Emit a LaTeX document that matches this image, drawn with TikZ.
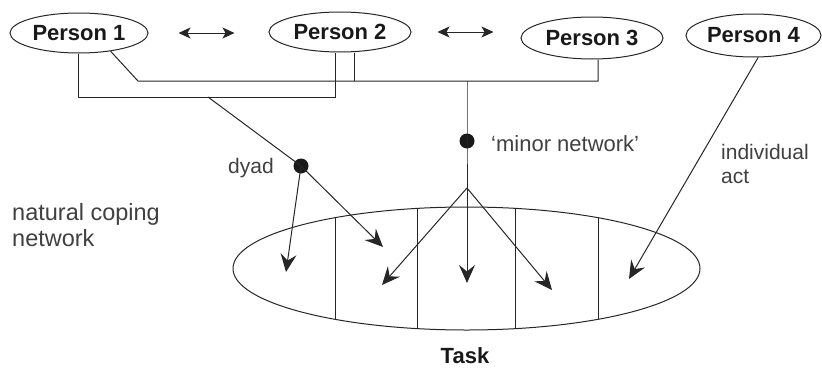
\documentclass[tikz,border=0pt]{standalone}
\usepackage{fontspec}
\setmainfont{Liberation Sans}
\usetikzlibrary{shapes.geometric,arrows.meta}
\begin{document}
\begin{tikzpicture}[x=1pt,y=-1pt,
  person/.style={draw=black!85, line width=1pt, ellipse, inner sep=0pt,
    font=\bfseries\fontsize{22}{26}\selectfont, text=black!90},
  note/.style={anchor=base west, inner sep=0pt,
    font=\fontsize{21}{25}\selectfont, text=black!75},
  wire/.style={draw=black!85, line width=1pt},
  bigarrow/.style={wire, -{Stealth[length=18pt,width=16pt,inset=6.5pt]}},
  swaparrow/.style={wire, {Stealth[length=12pt,width=11pt,inset=3pt]}-{Stealth[length=12pt,width=11pt,inset=3pt]}},
  junction/.style={circle, fill=black!90, inner sep=0pt, minimum size=15pt}]
\useasboundingbox (0,0) rectangle (822,367);

% people
\node[person, minimum width=138pt, minimum height=40pt] (p1) at (79,33) {Person 1};
\node[person, minimum width=142pt, minimum height=40pt] (p2) at (340,32) {Person 2};
\node[person, minimum width=142pt, minimum height=42pt] (p3) at (592,38) {Person 3};
\node[person, minimum width=135pt, minimum height=43pt] (p4) at (753.5,35.5) {Person 4};

% interaction arrows
\draw[swaparrow, shorten <=30pt, shorten >=34pt] (p1.east) -- (p1.east -| p2.west);
\draw[swaparrow, shorten <=26pt, shorten >=27pt] (p2.east) -- (p2.east -| p3.west);

% task
\node[draw=black!85, line width=1pt, ellipse, inner sep=0pt,
  minimum width=467pt, minimum height=123pt] (task) at (466.5,268.5) {};
\node[anchor=base, inner sep=0pt, font=\bfseries\fontsize{22}{26}\selectfont,
  text=black!90] (tasklabel) at (465,363) {Task};
\begin{scope}
  \clip (task.center) ellipse [x radius=233.5pt, y radius=61.5pt];
  \foreach \xx in {335,417,515,598}
    \draw[wire] (\xx,200) -- (\xx,340);
\end{scope}

% rails joining the people
\coordinate (a1) at (78,97);
\coordinate (a2) at (335,97);
\coordinate (b1) at (138,81);
\coordinate (b2) at (598,81);
\coordinate (b3) at (354,81);
\coordinate (m0) at (467,81);
\coordinate (d0) at (208,97);
\coordinate (m2) at (467,188);

\draw[wire] (p1.south -| a1) -- (a1) -- (a2) -- (p2.south -| a2);
\draw[wire] (p1.-30) -- (b1) -- (b2) -- (p3.south -| b2);
\draw[wire] (p2.south -| b3) -- (b3);

% junctions
\node[junction] (d1) at (301,166) {};
\node[junction] (m1) at (467,141) {};

\draw[wire] (d0) -- (d1.center);
\draw[wire] (m0) -- (m1.center) -- (m2);

% arrows onto the task
\coordinate (t1) at (286,272);
\coordinate (t2) at (383,247);
\coordinate (t3) at (382,285);
\coordinate (t4) at (467,283);
\coordinate (t5) at (552,290);
\coordinate (t6) at (629,279);

\draw[bigarrow] (d1.center) -- (t1);
\draw[bigarrow] (d1.center) -- (t2);
\draw[bigarrow] (m2) -- (t3);
\draw[bigarrow] (m2) -- (t4);
\draw[bigarrow] (m2) -- (t5);
\draw[bigarrow] (p4.-78) -- (t6);

% labels
\node[note] (dyadlabel) at (228,173) {dyad};
\node[note, font=\fontsize{22}{26}\selectfont] (minorlabel) at (491,151) {`minor network'};
\node[note] (indiv1) at (721,159) {individual};
\node[note] (indiv2) at (721,183) {act};
\node[note, font=\fontsize{23.5}{27}\selectfont] (nat1) at (12,220) {natural coping};
\node[note, font=\fontsize{23.5}{27}\selectfont] (nat2) at (12,246) {network};
\end{tikzpicture}
\end{document}
